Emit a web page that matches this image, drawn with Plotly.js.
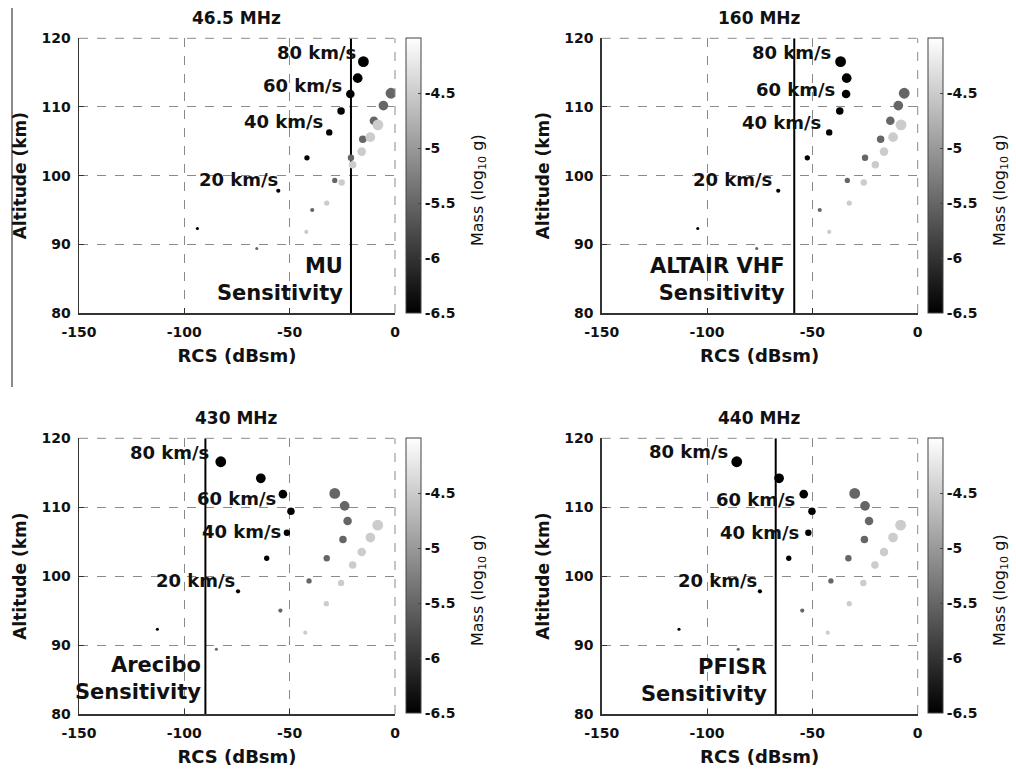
<!DOCTYPE html>
<html>
<head>
<meta charset="utf-8">
<script src="https://cdn.plot.ly/plotly-3.0.1.min.js"></script>
<style>html,body{margin:0;padding:0;background:#fff;}#chart{width:1016px;height:772px;}</style>
</head>
<body>
<div id="chart"></div>
<script>
// ---------- data ----------
const panelTitles = ["46.5 MHz", "160 MHz", "430 MHz", "440 MHz"];
const radarNames = ["MU", "ALTAIR VHF", "Arecibo", "PFISR"];
const sensitivity = [-20.9, -58.6, -90.0, -67.4];           // dBsm
const velocity = [80, 70, 60, 50, 40, 30, 20, 10];           // km/s
const massLog = [-6.5, -5.5, -4.5];                          // log10 g

// altitude (km) per mass, ordered by velocity (80 -> 10)
const alt_m65 = [116.6, 114.2, 111.9, 109.4, 106.3, 102.6, 97.8, 92.3];
const alt_m55 = [112.0, 110.2, 108.0, 105.3, 102.6, 99.3, 95.0, 89.4];
const alt_m45 = [107.4, 105.6, 103.5, 101.6, 99.0, 96.0, 91.8];

// RCS (dBsm) per radar and mass
const rcs46_m65 = [-15.0, -17.7, -21.2, -25.6, -31.2, -41.8, -55.4, -93.8];
const rcs46_m55 = [-1.9, -5.5, -10.0, -15.3, -20.9, -28.6, -39.3, -65.6];
const rcs46_m45 = [-8.1, -11.7, -15.8, -20.1, -25.3, -32.4, -42.1];

const rcs160_m65 = [-36.6, -33.7, -34.0, -37.0, -42.0, -52.4, -66.2, -104.4];
const rcs160_m55 = [-6.4, -9.2, -13.0, -17.6, -25.0, -33.4, -46.5, -76.4];
const rcs160_m45 = [-7.9, -11.7, -16.0, -20.1, -25.6, -32.5, -42.0];

const rcs430_m65 = [-82.7, -63.7, -53.2, -49.4, -51.3, -60.9, -74.5, -112.8];
const rcs430_m55 = [-28.6, -23.9, -22.5, -24.7, -32.4, -40.8, -54.4, -84.8];
const rcs430_m45 = [-8.2, -11.7, -15.8, -20.1, -25.6, -32.6, -42.6];

const rcs440_m65 = [-85.9, -65.8, -54.1, -50.2, -51.9, -61.2, -74.9, -113.3];
const rcs440_m55 = [-29.9, -25.0, -23.1, -25.3, -32.9, -41.2, -54.8, -85.2];
const rcs440_m45 = [-8.1, -11.7, -16.0, -20.3, -25.8, -32.5, -42.7];

const xTicks = [-150, -100, -50, 0];
const xTickText = ["-150", "-100", "-50", "0"];
const yTicks = [80, 90, 100, 110, 120];
const cbTicks = [-6.5, -6, -5.5, -5, -4.5];
const cbTickText = ["-6.5", "-6", "-5.5", "-5", "-4.5"];
const speedLabels = ["80 km/s", "60 km/s", "40 km/s", "20 km/s"];

// ---------- layout helpers (positions only) ----------
const W = 1016, H = 772;
const FONT = "DejaVu Sans";
const px = v => v / W, py = v => 1 - v / H;
const colDom = [[px(79), px(395)], [px(601.7), px(917.7)]];
const rowDom = [[py(313), py(38.3)], [py(714), py(438.3)]];
const cbX = [px(406), px(928)];
const titleY = [py(18.3), py(418.3)];
const cbTitleX = [px(478), px(1000)];
const cbTitleY = [py(190), py(590)];

// label positions (data coords of the right edge / middle) per panel
const speedLabelPos = [
  [[-17.6, 118.0], [-24.2, 113.2], [-33.2, 107.9], [-54.7, 99.4]],
  [[-40.1, 118.0], [-38.2, 112.6], [-44.8, 107.7], [-68.2, 99.4]],
  [[-87.3, 118.0], [-55.7, 111.3], [-53.4, 106.5], [-74.9, 99.4]],
  [[-89.1, 118.1], [-57.4, 111.1], [-55.5, 106.4], [-75.2, 99.4]]
];
const sensLabelPos = [[-23.7, 84.9], [-62.0, 84.9], [-91.0, 85.1], [-70.6, 84.85]];

const panelRcs = [
  [rcs46_m65, rcs46_m55, rcs46_m45],
  [rcs160_m65, rcs160_m55, rcs160_m45],
  [rcs430_m65, rcs430_m55, rcs430_m45],
  [rcs440_m65, rcs440_m55, rcs440_m45]
];
const altByMass = [alt_m65, alt_m55, alt_m45];

const traces = [];
const layout = {
  width: W, height: H,
  margin: {l: 0, r: 0, t: 0, b: 0},
  paper_bgcolor: "#fff", plot_bgcolor: "#fff",
  showlegend: false,
  font: {family: FONT, color: "#111"},
  annotations: [],
  shapes: [{
    type: "line", xref: "paper", yref: "paper",
    x0: px(12), x1: px(12), y0: py(8), y1: py(387),
    line: {color: "#8a8a8a", width: 2}
  }]
};

for (let p = 0; p < 4; p++) {
  const col = p % 2, row = Math.floor(p / 2);
  const sfx = p === 0 ? "" : String(p + 1);
  const xa = "x" + sfx, ya = "y" + sfx, ca = "coloraxis" + sfx;

  // sensitivity line
  traces.push({
    type: "scatter", mode: "lines", xaxis: xa, yaxis: ya,
    x: [sensitivity[p], sensitivity[p]], y: [yTicks[0], yTicks[yTicks.length - 1]],
    line: {color: "#000", width: 2}, hoverinfo: "skip"
  });

  for (let m = 0; m < massLog.length; m++) {
    const xs = panelRcs[p][m];
    const ys = altByMass[m];
    const n = Math.min(xs.length, ys.length);
    traces.push({
      type: "scatter", mode: "markers", xaxis: xa, yaxis: ya,
      x: xs.slice(0, n), y: ys.slice(0, n),
      marker: {
        size: velocity.slice(0, n).map(v => 2 + 0.11 * v),
        color: new Array(n).fill(massLog[m]),
        coloraxis: ca, opacity: 1,
        line: {width: 0}
      }
    });
  }

  layout["xaxis" + sfx] = {
    domain: colDom[col], anchor: ya, range: [-150, 0],
    tickmode: "array", tickvals: xTicks, ticktext: xTickText,
    ticks: "inside", ticklen: 5, tickcolor: "#333", tickwidth: 1,
    showline: true, linecolor: "#333", linewidth: 1.5, mirror: false,
    showgrid: true, gridcolor: "#8a8a8a", griddash: "dash", gridwidth: 1,
    zeroline: false, ticklabelstandoff: 6,
    tickfont: {family: FONT, size: 14, weight: "bold", color: "#111"},
    title: {text: "RCS (dBsm)", font: {family: FONT, size: 18, weight: "bold", color: "#111"}, standoff: 10}
  };
  layout["yaxis" + sfx] = {
    domain: rowDom[row], anchor: xa, range: [80, 120],
    tickmode: "array", tickvals: yTicks,
    ticks: "inside", ticklen: 5, tickcolor: "#333", tickwidth: 1,
    showline: true, linecolor: "#333", linewidth: 1.5, mirror: false,
    showgrid: true, gridcolor: "#8a8a8a", griddash: "dash", gridwidth: 1,
    zeroline: false, ticklabelstandoff: 4,
    tickfont: {family: FONT, size: 14, weight: "bold", color: "#111"},
    title: {text: "Altitude (km)", font: {family: FONT, size: 17, weight: "bold", color: "#111"}, standoff: 10}
  };
  layout[ca] = {
    cmin: -6.5, cmax: -4,
    colorscale: [[0, "rgb(0,0,0)"], [1, "rgb(255,255,255)"]],
    colorbar: {
      x: cbX[col], xanchor: "left", xpad: 0,
      y: rowDom[row][1], yanchor: "top", ypad: 0,
      len: 275, lenmode: "pixels", thickness: 15, thicknessmode: "pixels",
      outlinewidth: 1, outlinecolor: "#444", borderwidth: 0,
      tickmode: "array", tickvals: cbTicks, ticktext: cbTickText,
      ticks: "inside", ticklen: 3, tickcolor: "#444",
      tickfont: {family: FONT, size: 14, weight: "bold", color: "#111"}
    }
  };

  // dashed top and right borders (as in the reference box)
  layout.shapes.push({
    type: "line", xref: xa + " domain", yref: ya + " domain",
    x0: 0, x1: 1, y0: 1, y1: 1, line: {color: "#8a8a8a", width: 1, dash: "dash"}
  });
  layout.shapes.push({
    type: "line", xref: xa + " domain", yref: ya + " domain",
    x0: 1, x1: 1, y0: 0, y1: 1, line: {color: "#8a8a8a", width: 1, dash: "dash"}
  });

  // panel title
  layout.annotations.push({
    xref: "paper", yref: "paper", x: (colDom[col][0] + colDom[col][1]) / 2, y: titleY[row],
    xanchor: "center", yanchor: "middle", showarrow: false, text: panelTitles[p],
    font: {family: FONT, size: 17, weight: "bold", color: "#111"}
  });
  // colorbar title
  layout.annotations.push({
    xref: "paper", yref: "paper", x: cbTitleX[col], y: cbTitleY[row],
    xanchor: "center", yanchor: "middle", showarrow: false, textangle: -90,
    text: "Mass (log<sub>10</sub> g)",
    font: {family: FONT, size: 16, color: "#111"}
  });
  // speed labels
  for (let k = 0; k < speedLabels.length; k++) {
    layout.annotations.push({
      xref: xa, yref: ya, x: speedLabelPos[p][k][0], y: speedLabelPos[p][k][1],
      xanchor: "right", yanchor: "middle", showarrow: false, text: speedLabels[k],
      font: {family: FONT, size: 18, weight: "bold", color: "#111"}
    });
  }
  // sensitivity label
  layout.annotations.push({
    xref: xa, yref: ya, x: sensLabelPos[p][0], y: sensLabelPos[p][1],
    xanchor: "right", yanchor: "middle", align: "right", showarrow: false,
    text: radarNames[p] + "<br>Sensitivity",
    font: {family: FONT, size: 21, weight: "bold", color: "#111"}
  });
}

Plotly.newPlot("chart", traces, layout, {staticPlot: true, displayModeBar: false});
</script>
</body>
</html>
